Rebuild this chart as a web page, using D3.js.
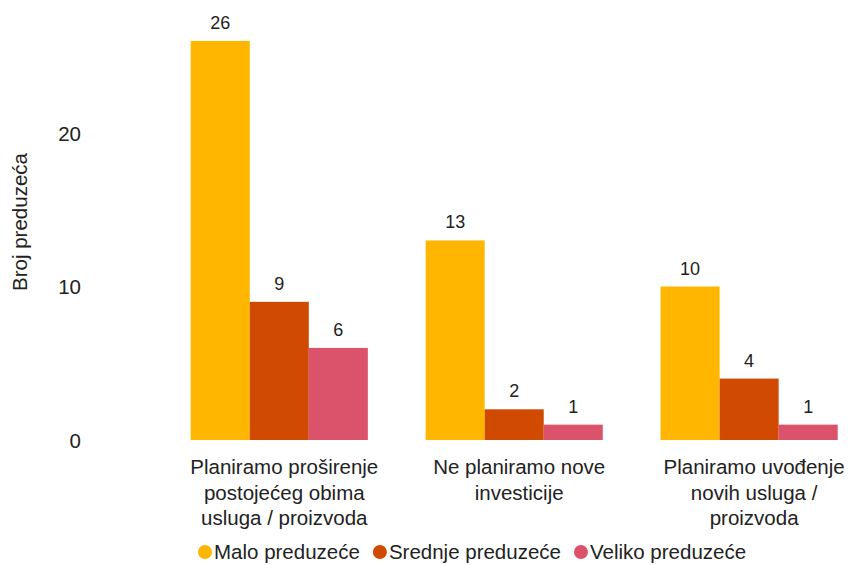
<!DOCTYPE html>
<html>
<head>
<meta charset="utf-8">
<script src="https://cdn.jsdelivr.net/npm/d3@7"></script>
<style>
  html, body { margin: 0; padding: 0; background: #fff; }
  svg { display: block; font-family: "Liberation Sans", Arial, sans-serif; }
</style>
</head>
<body>
<svg id="chart" width="849" height="565"></svg>
<script>
const categories = [
  ["Planiramo proširenje", "postojećeg obima", "usluga / proizvoda"],
  ["Ne planiramo nove", "investicije"],
  ["Planiramo uvođenje", "novih usluga /", "proizvoda"]
];
const seriesNames = ["Malo preduzeće", "Srednje preduzeće", "Veliko preduzeće"];
const malo = [26, 13, 10];
const srednje = [9, 2, 4];
const veliko = [6, 1, 1];
const yTicks = [0, 10, 20];
const yTitle = "Broj preduzeća";
const colors = ["#FFB600", "#D04A02", "#DB536A"];

const seriesValues = [malo, srednje, veliko];
const svg = d3.select("#chart");
const textColor = "#222";

const x0 = d3.scaleBand().domain(d3.range(categories.length)).range([190.7, 837.7]).paddingInner(0.246).paddingOuter(0);
const x1 = d3.scaleBand().domain(d3.range(seriesNames.length)).range([0, x0.bandwidth()]).padding(0);
const y = d3.scaleLinear().domain([0, 28]).range([440, 440 - 28 * 15.35]);

// y axis (labels only)
const yAxis = d3.axisLeft(y).tickValues(yTicks).tickSize(0).tickPadding(0);
const gy = svg.append("g").attr("transform", "translate(81,0)").call(yAxis);
gy.select(".domain").remove();
gy.selectAll("text").attr("font-size", 20.5).attr("fill", textColor)
  .attr("font-family", "Liberation Sans, Arial, sans-serif").attr("dy", "0.35em");

svg.append("text")
  .attr("transform", "translate(27,222) rotate(-90)")
  .attr("text-anchor", "middle")
  .attr("font-size", 20.5).attr("fill", textColor)
  .text(yTitle);

// bars
const groups = svg.append("g").selectAll("g").data(categories).join("g")
  .attr("transform", (d, i) => `translate(${x0(i)},0)`);

groups.each(function(cat, ci) {
  const g = d3.select(this);
  seriesValues.forEach((vals, si) => {
    const v = vals[ci];
    g.append("rect")
      .attr("x", x1(si)).attr("width", x1.bandwidth())
      .attr("y", y(v)).attr("height", y(0) - y(v))
      .attr("fill", colors[si]);
    g.append("text")
      .attr("x", x1(si) + x1.bandwidth() / 2)
      .attr("y", y(v) - 12)
      .attr("text-anchor", "middle")
      .attr("font-size", 18).attr("fill", textColor)
      .text(v);
  });
  const t = g.append("text").attr("text-anchor", "middle").attr("font-size", 20.5).attr("fill", textColor);
  cat.forEach((line, li) => {
    t.append("tspan").attr("x", x0.bandwidth() / 2 + 5).attr("y", 474 + li * 25.5).text(line);
  });
});

// legend
const legend = svg.append("g");
let lx = 198;
const ly = 552;
seriesNames.forEach((name, i) => {
  legend.append("circle").attr("cx", lx + 7).attr("cy", ly).attr("r", 7).attr("fill", colors[i]);
  const t = legend.append("text").attr("x", lx + 16).attr("y", ly + 7)
    .attr("font-size", 20.5).attr("fill", textColor).text(name);
  const w = t.node().getComputedTextLength();
  lx = lx + 16 + w + 13;
});
</script>
</body>
</html>
